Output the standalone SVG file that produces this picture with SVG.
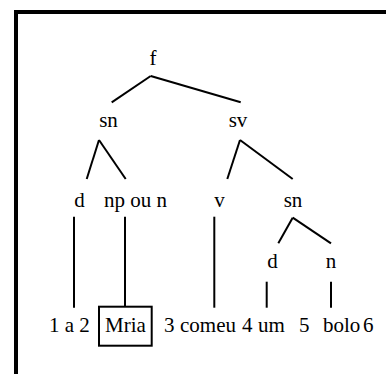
<svg xmlns="http://www.w3.org/2000/svg" width="386" height="374" viewBox="0 0 386 374">
<style>
.t text{font-family:'Liberation Serif','Times New Roman',Times,serif;font-size:21px;fill:#000}
.m{text-anchor:middle}
.e line{stroke:#000;stroke-width:2;stroke-linecap:butt}
</style>
<rect x="0" y="0" width="386" height="374" fill="#fff"/>
<path d="M16,374 V12 H386" fill="none" stroke="#000" stroke-width="4"/>
<g id="connectors" class="e">
<line x1="150.7" y1="76" x2="111.7" y2="102.3"/>
<line x1="150.7" y1="76" x2="240.7" y2="102.3"/>
<line x1="99" y1="140" x2="86.7" y2="179"/>
<line x1="99" y1="140" x2="125.7" y2="179"/>
<line x1="240" y1="140" x2="227.3" y2="179"/>
<line x1="240" y1="140" x2="292.7" y2="179"/>
<line x1="74" y1="216.7" x2="74" y2="307.7"/>
<line x1="125" y1="216.7" x2="125" y2="306.7"/>
<line x1="214.3" y1="216.7" x2="214.3" y2="307.7"/>
<line x1="292.7" y1="217.7" x2="278.3" y2="243.3"/>
<line x1="292.7" y1="217.7" x2="331" y2="243.3"/>
<line x1="266.7" y1="281.7" x2="266.7" y2="307.7"/>
<line x1="331" y1="281.7" x2="331" y2="307.7"/>
</g>
<g class="t" font-family="Liberation Serif, serif" font-size="21">
<g id="n-f"><text class="m" x="153" y="65">f</text></g>
<g id="n-sn"><text class="m" x="108.5" y="127">sn</text></g>
<g id="n-sv"><text class="m" x="238" y="127">sv</text></g>
<g id="n-d"><text class="m" x="79.5" y="207">d</text></g>
<g id="n-np"><text x="104" y="207">np ou n</text></g>
<g id="n-v"><text class="m" x="219.5" y="207">v</text></g>
<g id="n-sn2"><text class="m" x="293" y="207">sn</text></g>
<g id="n-d2"><text class="m" x="272.5" y="268">d</text></g>
<g id="n-n2"><text class="m" x="331" y="268">n</text></g>
<g id="w-1a2"><text x="49" y="332">1 a 2</text></g>
<g id="w-mria"><rect x="99" y="306.7" width="52.7" height="39" fill="none" stroke="#000" stroke-width="2"/><text x="105" y="332">Mria</text></g>
<g id="w-rest">
<text x="164" y="332">3</text>
<text x="180" y="332">comeu</text>
<text x="242" y="332">4</text>
<text x="258" y="332">um</text>
<text x="299" y="332">5</text>
<text x="323" y="332">bolo</text>
<text x="363" y="332">6</text>
</g>
</g>
</svg>
